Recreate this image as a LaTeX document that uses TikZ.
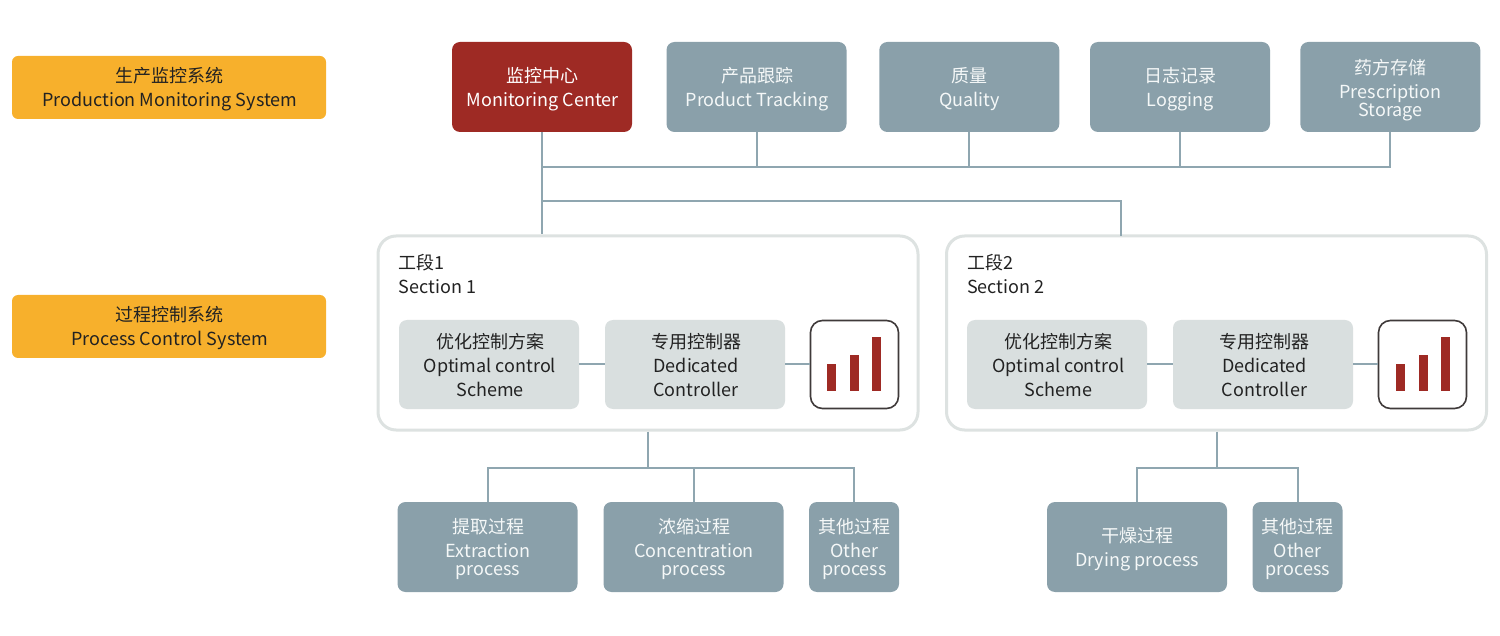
\documentclass[tikz,border=0pt]{standalone}
\usepackage{fontspec}
\setmainfont{Noto Sans CJK SC}
\definecolor{orangeb}{HTML}{F7B02C}
\definecolor{redb}{HTML}{9E2A24}
\definecolor{greyb}{HTML}{8AA0AA}
\definecolor{lightb}{HTML}{D9DFDF}
\definecolor{secb}{HTML}{DDE2E1}
\definecolor{linec}{HTML}{8FA6B0}
\definecolor{chartb}{HTML}{3F3A3A}
\definecolor{softw}{HTML}{F5F8F8}
\definecolor{darkt}{HTML}{222222}
\tikzset{
  base/.style={rounded corners=8pt,inner sep=0pt},
  lbl/.style={align=center,inner sep=0pt,font=\fontsize{18}{24}\selectfont},
  tdark/.style n args={3}{label={[lbl,text=darkt,xshift=#1pt,yshift=-#2pt]center:{#3}}},
  tgrey/.style n args={3}{label={[lbl,text=softw,xshift=#1pt,yshift=-#2pt]center:{#3}}},
  twhite/.style n args={3}{label={[lbl,text=white,xshift=#1pt,yshift=-#2pt]center:{#3}}},
  legendbox/.style={base,fill=orangeb,minimum width=314pt,minimum height=63pt,rounded corners=6pt},
  redbox/.style={base,fill=redb,minimum width=180pt,minimum height=90pt},
  greybox/.style={base,fill=greyb,minimum height=90pt},
  innerbox/.style={base,fill=lightb,minimum width=180pt,minimum height=89pt},
  sectionbox/.style={draw=secb,line width=3pt,fill=white,rounded corners=18pt,minimum width=540pt,minimum height=194pt,inner sep=0pt},
  chartbox/.style={draw=chartb,line width=1.6pt,fill=white,rounded corners=12pt,minimum width=88pt,minimum height=88pt,inner sep=0pt},
  titletext/.style={align=left,inner sep=0pt,text=darkt,font=\fontsize{18}{24}\selectfont,anchor=north west},
  conn/.style={draw=linec,line width=2pt},
  barr/.style={fill=redb,draw=none},
}
\begin{document}
\begin{tikzpicture}[x=1pt,y=-1pt]
\useasboundingbox (0,0) rectangle (1500,636);
% legend
\node[legendbox,tdark={0.7}{2}{生产监控系统\\Production Monitoring System}] (prod) at (169,87.5) {};
\node[legendbox,tdark={0.7}{2}{过程控制系统\\Process Control System}] (proc) at (169,326.5) {};
% top row
\node[redbox,twhite={0.7}{2.5}{监控中心\\Monitoring Center}] (mc) at (542,87) {};
\node[greybox,minimum width=180pt,tgrey={0.5}{2.5}{产品跟踪\\Product Tracking}] (track) at (756.5,87) {};
\node[greybox,minimum width=180pt,tgrey={0.3}{2.5}{质量\\Quality}] (qual) at (969.3,87) {};
\node[greybox,minimum width=180pt,tgrey={0}{2.5}{日志记录\\Logging}] (logg) at (1180,87) {};
\node[greybox,minimum width=180pt,tgrey={0.3}{2.7}{药方存储\\Prescription\\[-6pt]Storage}] (presc) at (1390.3,87) {};
% sections
\node[sectionbox] (s1) at (648,333) {};
\node[sectionbox] (s2) at (1216.5,333) {};
\node[titletext] (t1) at (398.5,254) {工段1\\Section 1};
\node[titletext] (t2) at (967,254) {工段2\\Section 2};
\node[innerbox,tdark={1}{0.2}{优化控制方案\\Optimal control\\Scheme}] (o1) at (489,364.5) {};
\node[innerbox,tdark={1}{0.2}{专用控制器\\Dedicated\\Controller}] (d1) at (695,364.5) {};
\node[chartbox] (c1) at (854.5,364.5) {};
\node[innerbox,tdark={1.5}{0.2}{优化控制方案\\Optimal control\\Scheme}] (o2) at (1057,364.5) {};
\node[innerbox,tdark={1.5}{0.2}{专用控制器\\Dedicated\\Controller}] (d2) at (1263,364.5) {};
\node[chartbox] (c2) at (1422.5,364.5) {};
% bottom row
\node[greybox,minimum width=180pt,tgrey={0.5}{2.5}{提取过程\\Extraction\\[-6pt]process}] (ext) at (487.5,547) {};
\node[greybox,minimum width=180pt,tgrey={0.5}{2.2}{浓缩过程\\Concentration\\[-6pt]process}] (con) at (693.5,547) {};
\node[greybox,minimum width=90pt,tgrey={0.5}{2.5}{其他过程\\Other\\[-6pt]process}] (oth1) at (854,547) {};
\node[greybox,minimum width=180pt,tgrey={0}{2.5}{干燥过程\\Drying process}] (dry) at (1137,547) {};
\node[greybox,minimum width=90pt,tgrey={0.3}{2.5}{其他过程\\Other\\[-6pt]process}] (oth2) at (1297.5,547) {};
% bus coordinates
\coordinate (bus1) at (542,167);
\coordinate (bus2) at (542,201);
\coordinate (busa) at (648,468);
\coordinate (busb) at (1216.5,468);
\coordinate (s2top) at (1121,236);
% connectors
\draw[conn] (mc.south) -- (mc.south |- s1.north);
\draw[conn] (track.south) |- (bus1);
\draw[conn] (qual.south) |- (bus1);
\draw[conn] (logg.south) |- (bus1);
\draw[conn] (presc.south) |- (bus1);
\draw[conn] (s2top) |- (bus2);
\draw[conn] (o1) -- (d1);
\draw[conn] (d1) -- (c1);
\draw[conn] (o2) -- (d2);
\draw[conn] (d2) -- (c2);
\draw[conn] (s1.south) -- (busa);
\draw[conn] (s2.south) -- (busb);
\draw[conn] (ext.north) |- (busa);
\draw[conn] (con.north) |- (busa);
\draw[conn] (oth1.north) |- (busa);
\draw[conn] (dry.north) |- (busb);
\draw[conn] (oth2.north) |- (busb);
% bars
\foreach \dx in {0,568.5}{
  \begin{scope}[xshift=\dx pt]
  \fill[barr] (827,364) rectangle (836,391.5);
  \fill[barr] (850,355) rectangle (859,391.5);
  \fill[barr] (872,337.5) rectangle (881,391.5);
  \end{scope}
}
\end{tikzpicture}
\end{document}
